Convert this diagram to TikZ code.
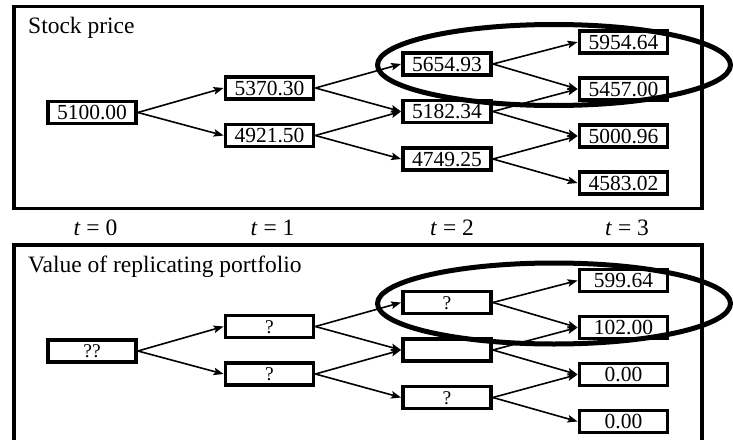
\documentclass[tikz,border=0pt]{standalone}
\usepackage{fontspec}
\setmainfont{Liberation Serif}
\usetikzlibrary{arrows.meta}
\tikzset{
  val/.style={draw, line width=3.8pt, minimum width=88pt, minimum height=22pt,
              inner sep=0pt, text height=14.5pt, text depth=0pt,
              font=\fontsize{21.5}{24}\selectfont},
  unknown/.style={val, text height=13.2pt, font=\fontsize{19.5}{22}\selectfont},
  link/.style={line width=1.6pt, -{Stealth[length=10pt,width=7.5pt,inset=2pt]}},
  frame/.style={line width=3.5pt},
  ring/.style={line width=5pt},
  lbl/.style={font=\fontsize{23.5}{26}\selectfont, inner sep=0pt},
}
\begin{document}
\begin{tikzpicture}[x=1pt,y=-1pt]
\useasboundingbox (0,0) rectangle (733,444);

% ---------- stock price tree ----------
\draw[frame] (14,6.5) rectangle (702,208.5);
\node[lbl, anchor=base west] (title1) at (28,34) {Stock price};

\node[val] (a0) at (92,112.5)  {5100.00};
\node[val] (b1) at (269.5,88)  {5370.30};
\node[val] (b2) at (269.5,135.5) {4921.50};
\node[val] (c1) at (447,64)    {5654.93};
\node[val] (c2) at (447,111.5) {5182.34};
\node[val] (c3) at (447,159)   {4749.25};
\node[val] (d1) at (623.5,42)  {5954.64};
\node[val] (d2) at (623.5,89)  {5457.00};
\node[val] (d3) at (623.5,136) {5000.96};
\node[val] (d4) at (623.5,183) {4583.02};

\draw[link] (a0.east) -- (b1.west);
\draw[link] (a0.east) -- (b2.west);
\draw[link] (b1.east) -- (c1.west);
\draw[link] (b1.east) -- (c2.west);
\draw[link] (b2.east) -- (c2.west);
\draw[link] (b2.east) -- (c3.west);
\draw[link] (c1.east) -- (d1.west);
\draw[link] (c1.east) -- (d2.west);
\draw[link] (c2.east) -- (d2.west);
\draw[link] (c2.east) -- (d3.west);
\draw[link] (c3.east) -- (d3.west);
\draw[link] (c3.east) -- (d4.west);

\draw[ring] (554,65) ellipse [x radius=176.5pt, y radius=40.5pt];

% ---------- time axis ----------
\node[lbl, anchor=base] (t0) at (95.5,235) {\textit{t} = 0};
\node[lbl, anchor=base] (t1) at (272.5,235) {\textit{t} = 1};
\node[lbl, anchor=base] (t2) at (452,235) {\textit{t} = 2};
\node[lbl, anchor=base] (t3) at (627,235) {\textit{t} = 3};

% ---------- replicating portfolio tree ----------
\draw[frame] (14,440) -- (14,245) -- (702,245) -- (702,440);
\node[lbl, anchor=base west] (title2) at (28,272) {Value of replicating portfolio};

\node[unknown] (p0) at (92,351)    {??};
\node[unknown] (q1) at (269.5,326.5) {?};
\node[unknown] (q2) at (269.5,374) {?};
\node[unknown] (r1) at (447,302.5) {?};
\node[val]     (r2) at (447,350)   {};
\node[unknown] (r3) at (447,397.5) {?};
\node[val] (s1) at (623.5,280.5) {599.64};
\node[val] (s2) at (623.5,327.5) {102.00};
\node[val] (s3) at (623.5,374.5) {0.00};
\node[val] (s4) at (623.5,421.5) {0.00};

\draw[link] (p0.east) -- (q1.west);
\draw[link] (p0.east) -- (q2.west);
\draw[link] (q1.east) -- (r1.west);
\draw[link] (q1.east) -- (r2.west);
\draw[link] (q2.east) -- (r2.west);
\draw[link] (q2.east) -- (r3.west);
\draw[link] (r1.east) -- (s1.west);
\draw[link] (r1.east) -- (s2.west);
\draw[link] (r2.east) -- (s2.west);
\draw[link] (r2.east) -- (s3.west);
\draw[link] (r3.east) -- (s3.west);
\draw[link] (r3.east) -- (s4.west);

\draw[ring] (554,303.5) ellipse [x radius=176.5pt, y radius=40.5pt];
\end{tikzpicture}
\end{document}
